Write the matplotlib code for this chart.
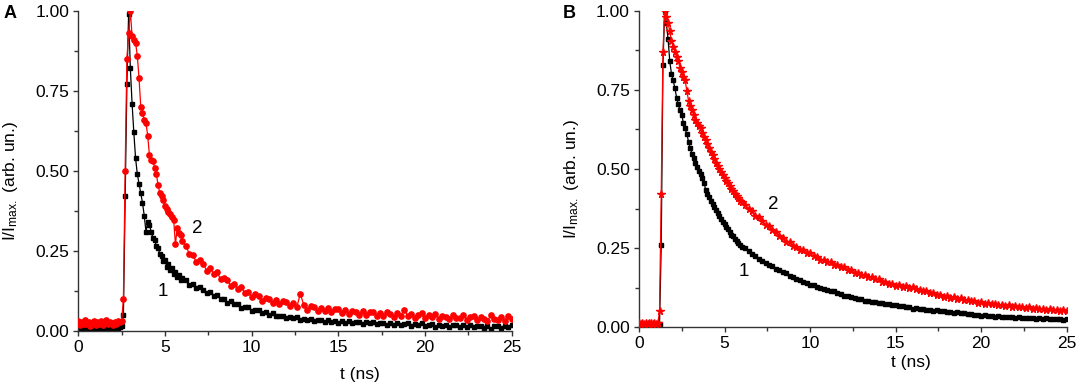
import numpy as np
import matplotlib
matplotlib.use("Agg")
import matplotlib.pyplot as plt
from matplotlib.ticker import MultipleLocator, FormatStrFormatter

plt.rcParams["font.family"] = ["Liberation Sans", "DejaVu Sans"]
plt.rcParams["mathtext.default"] = "regular"

# sampling: 0.1 ns up to 6 ns, then 0.2 ns
t_fine_step = 0.1
t_tail_start = 6.2
t_tail_step = 0.2

# ---- panel A ----
a1_fine = [0.005, 0.010, 0.004, 0.008, 0.012, 0.006, 0.009, 0.003, 0.007, 0.011,
           0.006, 0.008, 0.004, 0.010, 0.007, 0.012, 0.005, 0.009, 0.006, 0.011,
           0.008, 0.004, 0.010, 0.007, 0.012, 0.015,
           0.05, 0.42, 0.77, 0.99, 0.82, 0.71, 0.62, 0.54, 0.49, 0.46,
           0.43, 0.40, 0.36, 0.31, 0.34, 0.33, 0.31, 0.29, 0.285, 0.265,
           0.258, 0.240, 0.235, 0.218, 0.222, 0.200, 0.207, 0.190, 0.196, 0.178,
           0.183, 0.168, 0.174, 0.160, 0.165]
a1_tail = [0.158, 0.144, 0.145, 0.132, 0.137, 0.128, 0.117, 0.121, 0.110, 0.113,
           0.099, 0.100, 0.088, 0.093, 0.084, 0.085, 0.072, 0.074, 0.073, 0.062,
           0.064, 0.064, 0.054, 0.057, 0.050, 0.054, 0.045, 0.047, 0.047, 0.039,
           0.044, 0.039, 0.042, 0.034, 0.038, 0.033, 0.037, 0.029, 0.033, 0.034,
           0.027, 0.032, 0.028, 0.031, 0.024, 0.029, 0.025, 0.030, 0.023, 0.026,
           0.028, 0.020, 0.026, 0.023, 0.027, 0.020, 0.024, 0.025, 0.018, 0.024,
           0.019, 0.024, 0.018, 0.021, 0.023, 0.016, 0.021, 0.018, 0.023, 0.015,
           0.019, 0.021, 0.013, 0.019, 0.015, 0.019, 0.013, 0.017, 0.018, 0.011,
           0.017, 0.013, 0.018, 0.011, 0.015, 0.016, 0.009, 0.015, 0.004, 0.014,
           0.016, 0.010, 0.016, 0.013, 0.018]
a2_fine = [0.030, 0.018, 0.028, 0.022, 0.032, 0.020, 0.027, 0.015, 0.024, 0.030,
           0.019, 0.026, 0.021, 0.029, 0.017, 0.025, 0.033, 0.020, 0.027, 0.023,
           0.018, 0.028, 0.022, 0.030, 0.026, 0.031,
           0.10, 0.50, 0.85, 0.93, 1.00, 0.92, 0.91, 0.90, 0.86, 0.79,
           0.70, 0.68, 0.66, 0.65, 0.61, 0.55, 0.535, 0.53, 0.51, 0.49,
           0.455, 0.43, 0.42, 0.41, 0.39, 0.38, 0.37, 0.365, 0.355, 0.345,
           0.27, 0.32, 0.305, 0.30, 0.28]
a2_tail = [0.266, 0.240, 0.238, 0.214, 0.222, 0.209, 0.188, 0.196, 0.178, 0.184,
           0.161, 0.166, 0.158, 0.139, 0.147, 0.130, 0.137, 0.119, 0.122, 0.104,
           0.114, 0.110, 0.094, 0.103, 0.100, 0.086, 0.097, 0.083, 0.092, 0.090,
           0.078, 0.086, 0.073, 0.116, 0.081, 0.066, 0.077, 0.074, 0.062, 0.072,
           0.061, 0.070, 0.058, 0.067, 0.068, 0.055, 0.064, 0.053, 0.063, 0.060,
           0.050, 0.061, 0.049, 0.057, 0.059, 0.047, 0.055, 0.046, 0.058, 0.051,
           0.044, 0.056, 0.047, 0.066, 0.045, 0.053, 0.041, 0.050, 0.054, 0.040,
           0.049, 0.043, 0.052, 0.038, 0.047, 0.044, 0.036, 0.050, 0.041, 0.039,
           0.048, 0.035, 0.044, 0.046, 0.034, 0.042, 0.038, 0.031, 0.049, 0.037,
           0.033, 0.044, 0.030, 0.046, 0.038]

# ---- panel B ----
b1_fine = [0.004, 0.006, 0.003, 0.005, 0.007, 0.004, 0.006, 0.003, 0.005, 0.006,
           0.004, 0.007, 0.010,
           0.26, 0.83, 1.00, 0.96, 0.91, 0.84, 0.80, 0.78, 0.755, 0.725,
           0.705, 0.685, 0.67, 0.645, 0.628, 0.61, 0.585, 0.565, 0.548, 0.535,
           0.52, 0.505, 0.495, 0.485, 0.47, 0.455, 0.435, 0.42, 0.41, 0.40,
           0.39, 0.38, 0.37, 0.36, 0.352, 0.342, 0.333, 0.325, 0.318, 0.31,
           0.30, 0.292, 0.287, 0.28, 0.273, 0.266, 0.26, 0.255]
b1_tail = [0.250, 0.242, 0.231, 0.224, 0.217, 0.209, 0.204, 0.196, 0.192, 0.185,
           0.181, 0.173, 0.170, 0.162, 0.159, 0.151, 0.148, 0.142, 0.140, 0.134,
           0.132, 0.127, 0.125, 0.120, 0.119, 0.114, 0.113, 0.107, 0.106, 0.100,
           0.099, 0.094, 0.093, 0.089, 0.088, 0.084, 0.084, 0.080, 0.080, 0.076,
           0.077, 0.073, 0.074, 0.070, 0.071, 0.067, 0.067, 0.063, 0.063, 0.059,
           0.060, 0.057, 0.057, 0.054, 0.055, 0.052, 0.053, 0.050, 0.051, 0.048,
           0.049, 0.046, 0.047, 0.044, 0.044, 0.041, 0.042, 0.039, 0.040, 0.037,
           0.038, 0.035, 0.036, 0.033, 0.035, 0.032, 0.033, 0.031, 0.032, 0.030,
           0.031, 0.029, 0.030, 0.028, 0.030, 0.027, 0.029, 0.027, 0.028, 0.026,
           0.027, 0.025, 0.026, 0.024, 0.025]
b2_fine = [0.012, 0.010, 0.014, 0.011, 0.013, 0.009, 0.012, 0.014, 0.010, 0.013,
           0.011, 0.012, 0.050,
           0.42, 0.87, 1.00, 0.98, 0.96, 0.935, 0.905, 0.885, 0.87, 0.855,
           0.84, 0.82, 0.805, 0.79, 0.78, 0.745, 0.715, 0.70, 0.685, 0.67,
           0.655, 0.645, 0.635, 0.628, 0.615, 0.60, 0.59, 0.578, 0.565, 0.555,
           0.545, 0.532, 0.52, 0.51, 0.50, 0.49, 0.48, 0.47, 0.462, 0.455,
           0.445, 0.437, 0.43, 0.422, 0.415, 0.407, 0.40, 0.395]
b2_tail = [0.386, 0.374, 0.366, 0.350, 0.349, 0.335, 0.324, 0.320, 0.306, 0.300,
           0.288, 0.283, 0.270, 0.268, 0.258, 0.255, 0.245, 0.243, 0.234, 0.233,
           0.224, 0.223, 0.214, 0.213, 0.205, 0.205, 0.197, 0.197, 0.189, 0.189,
           0.180, 0.180, 0.172, 0.172, 0.165, 0.166, 0.159, 0.160, 0.152, 0.152,
           0.144, 0.144, 0.137, 0.138, 0.131, 0.133, 0.128, 0.129, 0.125, 0.126,
           0.120, 0.119, 0.114, 0.114, 0.109, 0.108, 0.103, 0.102, 0.097, 0.098,
           0.093, 0.094, 0.089, 0.091, 0.086, 0.087, 0.082, 0.083, 0.078, 0.080,
           0.075, 0.077, 0.072, 0.074, 0.070, 0.071, 0.067, 0.069, 0.065, 0.067,
           0.063, 0.065, 0.061, 0.063, 0.059, 0.061, 0.057, 0.059, 0.055, 0.057,
           0.053, 0.055, 0.051, 0.053, 0.050]


def series(fine, tail):
    t = np.concatenate([np.arange(len(fine)) * t_fine_step,
                        t_tail_start + np.arange(len(tail)) * t_tail_step])
    return t, np.array(fine + tail)


def style_axes(ax):
    ax.set_xlim(0, 25)
    ax.set_ylim(0, 1.0)
    ax.spines["top"].set_visible(False)
    ax.spines["right"].set_visible(False)
    for s in ("left", "bottom"):
        ax.spines[s].set_color("#333333")
        ax.spines[s].set_linewidth(1.0)
    ax.xaxis.set_major_locator(MultipleLocator(5))
    ax.xaxis.set_minor_locator(MultipleLocator(2.5))
    ax.yaxis.set_major_locator(MultipleLocator(0.25))
    ax.yaxis.set_minor_locator(MultipleLocator(0.125))
    ax.yaxis.set_major_formatter(FormatStrFormatter("%.2f"))
    ax.tick_params(which="both", direction="out", color="#333333",
                   labelsize=12.5, width=1.0, pad=3)
    ax.tick_params(which="major", length=3.5)
    ax.tick_params(which="minor", length=3)
    ax.set_xlabel("t (ns)", fontsize=12.5)
    ax.set_ylabel("I/I$_{max.}$ (arb. un.)", fontsize=12.5)


fig = plt.figure(figsize=(10.79, 3.85), dpi=100)
axA = fig.add_axes([0.0726, 0.141, 0.4017, 0.8312])
axB = fig.add_axes([0.5922, 0.150, 0.3965, 0.8222])

panels = [
    (axA, series(a1_fine, a1_tail), series(a2_fine, a2_tail), "o", 3.8,
     [(4.85, 0.122, "1"), (6.88, 0.318, "2")], 0.65, -0.112),
    (axB, series(b1_fine, b1_tail), series(b2_fine, b2_tail), "*", 5.5,
     [(6.14, 0.175, "1"), (7.85, 0.389, "2")], 0.635, -0.088),
]

for ax, (t1, y1), (t2, y2), m2, ms2, labels, xlab_x, xlab_y in panels:
    ax.plot(t1, y1, color="black", lw=0.9, marker="s", ms=3.2,
            mec="black", mfc="black", zorder=2)
    ax.plot(t2, y2, color="red", lw=0.9, marker=m2, ms=ms2,
            mec="red", mfc="red", zorder=3)
    style_axes(ax)
    for x, y, s in labels:
        ax.text(x, y, s, fontsize=13.5, ha="center", va="center")
    ax.xaxis.set_label_coords(xlab_x, xlab_y)
    ax.yaxis.set_label_coords(-0.135, 0.468)

fig.text(10 / 1079, 1 - 14 / 385, "A", fontsize=13, fontweight="bold",
         ha="center", va="center")
fig.text(569 / 1079, 1 - 13 / 385, "B", fontsize=13, fontweight="bold",
         ha="center", va="center")

fig.savefig("out.png", dpi=100)
